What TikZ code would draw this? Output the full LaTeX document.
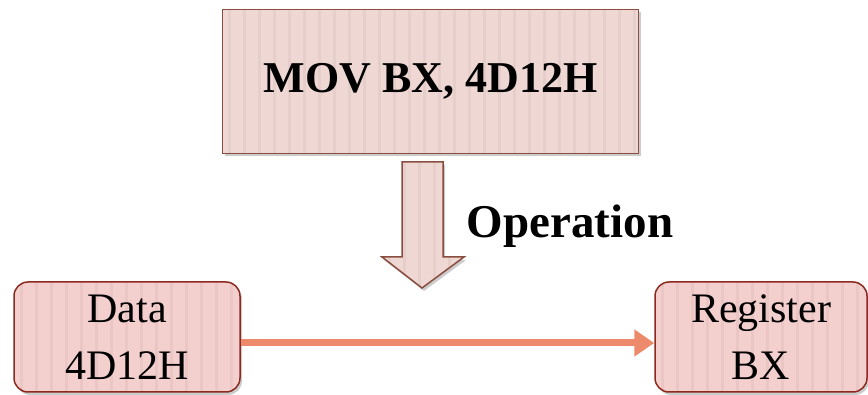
\documentclass[tikz,border=0pt]{standalone}
\usepackage{fontspec}
\setmainfont{Liberation Serif}
\usetikzlibrary{shadows,arrows.meta,calc}
\definecolor{topfill}{HTML}{EFD8D4}
\definecolor{topline}{HTML}{8A4E40}
\definecolor{topstripe}{HTML}{E6CFCB}
\definecolor{botfill}{HTML}{F3CFCE}
\definecolor{botline}{HTML}{8C2A1F}
\definecolor{botstripe}{HTML}{EAC6C5}
\definecolor{conn}{HTML}{EE8A6C}
\tikzset{
  stripes/.style={path picture={
    \foreach \k in {0,...,30}{
      \draw[#1, line width=3pt] ([xshift=\k*15pt+7pt]path picture bounding box.south west) -- ([xshift=\k*15pt+7pt]path picture bounding box.north west);
    }}},
  topbox/.style={draw=topline, line width=1.5pt, fill=topfill, stripes=topstripe,
    drop shadow={shadow xshift=2pt, shadow yshift=-3pt, opacity=.4}},
  botbox/.style={draw=botline, line width=1.5pt, fill=botfill, stripes=botstripe,
    rounded corners=14pt, align=center,
    drop shadow={shadow xshift=2pt, shadow yshift=-3pt, opacity=.4},
    font=\fontsize{42}{57}\selectfont},
}
\begin{document}
\begin{tikzpicture}[x=1pt,y=-1pt]
\useasboundingbox (0,0) rectangle (868,395);
\node[topbox, minimum width=416pt, minimum height=144pt, font=\fontsize{44}{50}\selectfont\bfseries] (mov) at (430.5,81.5) {MOV BX, 4D12H};
\path[draw=topline, line width=1.5pt, fill=topfill, stripes=topstripe,
  drop shadow={shadow xshift=2pt, shadow yshift=-3pt, opacity=.4}]
  (402,162) -- (443,162) -- (443,257) -- (464,257) -- (422,288) -- (382,257) -- (402,257) -- cycle;
\node[font=\fontsize{47}{50}\selectfont\bfseries] (op) at (570,226) {Operation};
\node[botbox, minimum width=226pt, minimum height=110pt] (data) at (127,337) {Data\\4D12H};
\node[botbox, minimum width=212pt, minimum height=110pt] (reg) at (761,337) {Register\\BX};
\draw[conn, line width=7pt, -{Triangle[length=20pt, width=26pt]}]
  ([yshift=-6pt]data.east) -- ([yshift=-6pt]reg.west);
\end{tikzpicture}
\end{document}
